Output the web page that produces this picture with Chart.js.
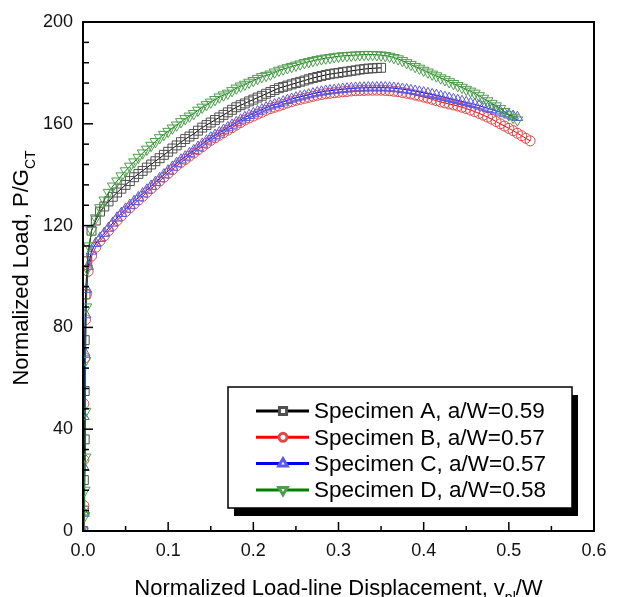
<!DOCTYPE html>
<html>
<head>
<meta charset="utf-8">
<script src="https://cdn.jsdelivr.net/npm/chart.js@4.4.1/dist/chart.umd.min.js"></script>
<style>
  html, body { margin: 0; padding: 0; background: #fff; }
</style>
</head>
<body>
<canvas id="myChart" width="618" height="597"></canvas>
<script>
// values
let seriesNames = ['Specimen A, a/W=0.59', 'Specimen B, a/W=0.57', 'Specimen C, a/W=0.57', 'Specimen D, a/W=0.58'];

// displacement readings shared by the curved part of every specimen
let xGrid = [
  0.01, 0.015, 0.02, 0.025, 0.03, 0.035, 0.04, 0.045, 0.05, 0.055,
  0.06, 0.065, 0.07, 0.075, 0.08, 0.085, 0.09, 0.095, 0.10, 0.105,
  0.11, 0.115, 0.12, 0.125, 0.13, 0.135, 0.14, 0.145, 0.15, 0.155,
  0.16, 0.165, 0.17, 0.175, 0.18, 0.185, 0.19, 0.195, 0.20, 0.205,
  0.21, 0.215, 0.22, 0.225, 0.23, 0.235, 0.24, 0.245, 0.25, 0.255,
  0.26, 0.265, 0.27, 0.275, 0.28, 0.285, 0.29, 0.295, 0.30, 0.305,
  0.31, 0.315, 0.32, 0.325, 0.33, 0.335, 0.34, 0.345, 0.35, 0.355,
  0.36, 0.365, 0.37, 0.375, 0.38, 0.385, 0.39, 0.395, 0.40, 0.405,
  0.41, 0.415, 0.42, 0.425, 0.43, 0.435, 0.44, 0.445, 0.45, 0.455,
  0.46, 0.465, 0.47, 0.475, 0.48, 0.485, 0.49, 0.495, 0.50, 0.505,
  0.51, 0.515, 0.52, 0.525
];

// elastic part (near-vertical rise at v ~ 0)
let xElA = [0, 0.001, 0.001, 0.002, 0.002, 0.002, 0.003, 0.005];
let yElA = [0, 8, 20, 36, 55, 75, 93, 106];
let xElB = [0, 0.001, 0.001, 0.001, 0.002, 0.003, 0.004, 0.006];
let yElB = [0, 10, 28, 50, 68, 83, 93, 102];
let xElC = [0, 0.001, 0.001, 0.001, 0.002, 0.003, 0.004, 0.006];
let yElC = [0, 7, 25, 45, 70, 85, 95, 104];
let xElD = [0, 0.002, 0.002, 0.003, 0.003, 0.003, 0.004, 0.005, 0.007];
let yElD = [0, 6, 16, 29, 47, 67, 88, 103, 112];

// load on the curved part, one value per xGrid entry
let yA = [
  118, 122, 125.5, 127.5, 129.5, 131.3, 133, 134.5, 136, 137.5,
  139, 140.3, 141.5, 142.8, 144, 145.3, 146.5, 147.8, 149, 150.3,
  151.5, 152.8, 154, 155, 156, 157.3, 158.5, 159.5, 160.5, 161.5,
  162.5, 163.5, 164.5, 165.5, 166.5, 167.3, 168, 168.8, 169.5, 170.3,
  171, 171.8, 172.5, 173.3, 174, 174.5, 175, 175.5, 176, 176.5,
  177, 177.5, 178, 178.4, 178.8, 179.2, 179.5, 179.8, 180, 180.3,
  180.5, 180.8, 181, 181.3, 181.5, 181.7, 181.8, 181.9, 182
];
let yB = [
  108, 111.5, 114, 116, 118, 120, 122, 123.8, 125.5, 127,
  128.5, 130, 131.5, 133, 134.5, 136, 137.5, 139, 140.5, 142,
  143.5, 144.8, 146, 147.3, 148.5, 149.8, 151, 152.3, 153.5, 154.5,
  155.5, 156.5, 157.5, 158.5, 159.5, 160.5, 161.5, 162.3, 163, 163.8,
  164.5, 165.3, 166, 166.5, 167, 167.6, 168.2, 168.7, 169.2, 169.6,
  170, 170.4, 170.8, 171.2, 171.5, 171.8, 172, 172.2, 172.4, 172.6,
  172.7, 172.9, 173, 173.1, 173.1, 173.2, 173.2, 173.2, 173.2, 173.1,
  173, 172.8, 172.6, 172.3, 172, 171.7, 171.3, 170.9, 170.5, 170.1,
  169.6, 169.1, 168.6, 168.2, 167.8, 167.4, 167, 166.5, 166, 165.4,
  164.8, 164.1, 163.4, 162.6, 161.8, 160.9, 160, 159.1, 158.2, 157.3,
  156.3, 155.3, 154.3, 153.3
];
let yC = [
  110, 113, 115, 117, 119, 121, 123, 124.8, 126.5, 128,
  129.5, 131, 132.5, 134, 135.5, 137, 138.5, 140, 141.5, 143,
  144.5, 145.8, 147, 148.3, 149.5, 150.8, 152, 153.3, 154.5, 155.5,
  156.5, 157.5, 158.5, 159.5, 160.5, 161.5, 162.5, 163.3, 164, 164.8,
  165.5, 166.3, 167, 167.5, 168, 168.6, 169.2, 169.7, 170.2, 170.6,
  171, 171.4, 171.8, 172.2, 172.5, 172.8, 173, 173.2, 173.4, 173.6,
  173.7, 173.9, 174, 174.1, 174.1, 174.2, 174.2, 174.2, 174.2, 174.2,
  174.1, 174, 173.8, 173.6, 173.4, 173.1, 172.8, 172.5, 172.2, 171.9,
  171.5, 171.2, 170.8, 170.4, 170, 169.6, 169.2, 168.8, 168.4, 168,
  167.6, 167.1, 166.6, 166.1, 165.6, 165.1, 164.6, 164, 163.5, 163,
  162.5
];
let yD = [
  118, 123, 127, 130, 133, 135.5, 137.5, 139.5, 141.5, 143.3,
  145, 146.8, 148.5, 150, 151.5, 153, 154.5, 155.8, 157, 158.3,
  159.5, 160.8, 162, 163, 164, 165.3, 166.5, 167.5, 168.5, 169.5,
  170.5, 171.3, 172, 173, 174, 174.8, 175.5, 176.3, 177, 177.8,
  178.5, 179, 179.5, 180.3, 181, 181.5, 182, 182.5, 183, 183.5,
  184, 184.4, 184.8, 185.2, 185.5, 185.8, 186, 186.3, 186.5, 186.7,
  186.8, 186.9, 187, 187.1, 187.2, 187.2, 187.2, 187.1, 187, 186.8,
  186.5, 186, 185.5, 184.8, 184, 183.3, 182.5, 181.8, 181, 180.3,
  179.5, 178.8, 178, 177.3, 176.5, 175.8, 175, 174.3, 173.5, 172.8,
  172, 171, 170, 169, 168, 167, 166, 164.8, 163.5, 162.5,
  161.5
];

let xTicks = [0, 0.1, 0.2, 0.3, 0.4, 0.5, 0.6];
let yTicks = [0, 40, 80, 120, 160, 200];

function pairs(xEl, yEl, ys) {
  let xs = xEl.concat(xGrid.slice(0, ys.length));
  let all = yEl.concat(ys);
  return xs.map((v, i) => ({ x: v, y: all[i] }));
}

const FONT = '"Liberation Sans", Arial, sans-serif';
Chart.defaults.font.family = FONT;
Chart.defaults.color = '#000';

let lineColors = ['#000000', '#ff0000', '#0000ff', '#008000'];
let markColors = ['#505050', '#e04848', '#5a5ae6', '#4c9e4c'];
let markStyles = ['rect', 'circle', 'triangle', 'triangle'];
let markRot = [0, 0, 0, 180];
let markRadius = [6.3, 5, 6.2, 6.2];
let series = [
  pairs(xElA, yElA, yA),
  pairs(xElB, yElB, yB),
  pairs(xElC, yElC, yC),
  pairs(xElD, yElD, yD)
];

let datasets = seriesNames.map((name, i) => ({
  label: name,
  data: series[i],
  showLine: true,
  borderColor: lineColors[i],
  borderWidth: 1,
  pointStyle: markStyles[i],
  pointRotation: markRot[i],
  pointRadius: markRadius[i],
  pointBorderColor: markColors[i],
  pointBackgroundColor: 'rgba(255,255,255,0)',
  pointBorderWidth: 1,
  tension: 0,
  order: 3 - i
}));

// text with a subscript part, centred on x
function subText(ctx, before, sub, after, size, x, y) {
  let small = Math.round(size * 0.65);
  ctx.font = size + 'px ' + FONT;
  let w1 = ctx.measureText(before).width;
  let w3 = ctx.measureText(after).width;
  ctx.font = small + 'px ' + FONT;
  let w2 = ctx.measureText(sub).width;
  let start = x - (w1 + w2 + w3) / 2;
  ctx.textAlign = 'left';
  ctx.textBaseline = 'alphabetic';
  ctx.font = size + 'px ' + FONT;
  ctx.fillText(before, start, y);
  ctx.font = small + 'px ' + FONT;
  ctx.fillText(sub, start + w1, y + size * 0.3);
  ctx.font = size + 'px ' + FONT;
  ctx.fillText(after, start + w1 + w2, y);
}

const frame = {
  id: 'frame',
  afterDraw(chart) {
    const ctx = chart.ctx;
    const a = chart.chartArea;
    const xs = chart.scales.x, ys = chart.scales.y;
    ctx.save();
    ctx.strokeStyle = '#000';
    ctx.lineWidth = 2;
    ctx.strokeRect(a.left, a.top, a.right - a.left, a.bottom - a.top);

    ctx.lineWidth = 1.5;
    for (let v = 0; v <= 200; v += 8) {
      let p = ys.getPixelForValue(v);
      let len = v % 40 == 0 ? 10 : 6;
      ctx.beginPath(); ctx.moveTo(a.left, p); ctx.lineTo(a.left + len, p); ctx.stroke();
    }
    for (let i = 0; i <= 12; i++) {
      let p = xs.getPixelForValue(i * 0.05);
      let len = i % 2 == 0 ? 9 : 5;
      ctx.beginPath(); ctx.moveTo(p, a.bottom); ctx.lineTo(p, a.bottom - len); ctx.stroke();
    }

    // axis titles
    ctx.fillStyle = '#000';
    subText(ctx, 'Normalized Load-line Displacement, v', 'pl', '/W', 22, (a.left + a.right) / 2, 595);
    ctx.save();
    ctx.translate(28, 268);
    ctx.rotate(-Math.PI / 2);
    subText(ctx, 'Normalized Load, P/G', 'CT', '', 22, 0, 0);
    ctx.restore();

    // legend box with shadow
    let bx = 228, by = 387, bw = 344, bh = 121;
    ctx.fillStyle = '#000';
    ctx.fillRect(bx + 6, by + 8, bw, bh);
    ctx.fillStyle = '#fff';
    ctx.fillRect(bx, by, bw, bh);
    ctx.lineWidth = 1.5;
    ctx.strokeRect(bx, by, bw, bh);
    seriesNames.forEach((name, i) => {
      let ry = 411 + i * 26.3;
      ctx.strokeStyle = lineColors[i];
      ctx.lineWidth = 3;
      ctx.beginPath(); ctx.moveTo(256, ry); ctx.lineTo(309, ry); ctx.stroke();
      ctx.strokeStyle = markColors[i];
      ctx.fillStyle = '#fff';
      Chart.helpers.drawPoint(ctx, {
        pointStyle: markStyles[i], rotation: markRot[i],
        radius: markRadius[i] * 0.8, borderWidth: 1
      }, 283, ry);
      ctx.fillStyle = '#000';
      ctx.font = '22.5px ' + FONT;
      ctx.textAlign = 'left';
      ctx.textBaseline = 'middle';
      ctx.fillText(name, 314, ry + 1);
    });
    ctx.restore();
  }
};

let ctx = document.getElementById('myChart').getContext('2d');
let chart = new Chart(ctx, {
  type: 'scatter',
  data: { datasets: datasets },
  options: {
    responsive: false,
    animation: false,
    layout: { padding: { top: 22, right: 24, left: 0, bottom: 0 } },
    plugins: { legend: { display: false }, tooltip: { enabled: false } },
    scales: {
      x: {
        type: 'linear', min: 0, max: 0.6,
        grid: { display: false, drawTicks: false },
        border: { display: false },
        afterBuildTicks: s => { s.ticks = xTicks.map(v => ({ value: v })); },
        afterFit: s => { s.height = 66; },
        ticks: { padding: 9, font: { size: 18 }, color: '#111', callback: v => v.toFixed(1) }
      },
      y: {
        type: 'linear', min: 0, max: 200,
        grid: { display: false, drawTicks: false },
        border: { display: false },
        afterBuildTicks: s => { s.ticks = yTicks.map(v => ({ value: v })); },
        afterFit: s => { s.width = 83; },
        ticks: { padding: 10, font: { size: 18 }, color: '#111', callback: v => String(v) }
      }
    }
  },
  plugins: [frame]
});
</script>
</body>
</html>
